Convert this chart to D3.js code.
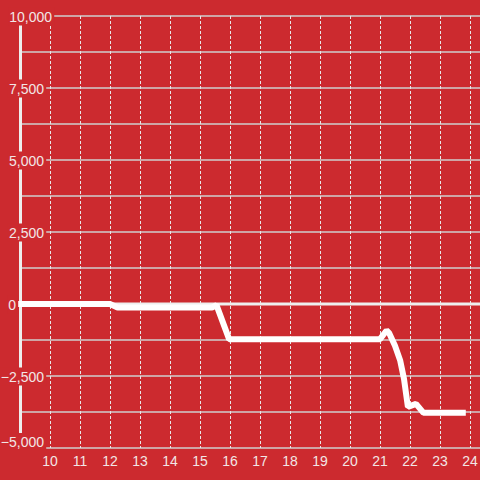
<!DOCTYPE html>
<html><head><meta charset="utf-8">
<script src="https://cdn.jsdelivr.net/npm/d3@7"></script>
<style>html,body{margin:0;padding:0;background:#cc2a2f;}svg{display:block;}</style>
</head><body>
<svg id="c" width="480" height="480"></svg>
<script>
const hours = [8.9, 12.0, 12.25, 15.4, 15.55, 15.97, 21.0, 21.22, 21.3, 21.5, 21.67, 21.8, 21.93, 22.2, 22.45, 23.86];
const values = [0, 0, -120, -120, -40, -1220, -1220, -920, -1000, -1450, -1950, -2600, -3570, -3470, -3780, -3780];
const yTicks = [-5000, -3750, -2500, -1250, 0, 1250, 2500, 3750, 5000, 6250, 7500, 8750, 10000];
const yLabelTicks = [-5000, -2500, 0, 2500, 5000, 7500, 10000];
const xTicks = [10, 11, 12, 13, 14, 15, 16, 17, 18, 19, 20, 21, 22, 23, 24];

const W = 480, H = 480;
const svg = d3.select("#c");
svg.append("rect").attr("width", W).attr("height", H).attr("fill", "#cc2a2f");
const x = d3.scaleLinear().domain([9, 24]).range([20, 470]);
const y = d3.scaleLinear().domain([-5000, 10000]).range([448, 16]);

// horizontal grid
svg.append("g").selectAll("line").data(yTicks).join("line")
  .attr("x1", 21).attr("x2", W)
  .attr("y1", d => y(d)).attr("y2", d => y(d))
  .attr("stroke", "#cfcfcf").attr("stroke-width", 1.5);

// vertical dashed grid
svg.append("g").selectAll("line").data(xTicks).join("line")
  .attr("x1", d => x(d) + 0.5).attr("x2", d => x(d) + 0.5)
  .attr("y1", y(10000)).attr("y2", y(-5000))
  .attr("stroke", "#e8e8e8").attr("stroke-width", 1).attr("stroke-dasharray", "3,2");

// left axis bar
svg.append("line").attr("x1", 20.5).attr("x2", 20.5).attr("y1", 24).attr("y2", 440)
  .attr("stroke", "#eeeeee").attr("stroke-width", 3);

// zero line
svg.append("line").attr("x1", 20).attr("x2", W).attr("y1", y(0)).attr("y2", y(0))
  .attr("stroke", "#eeeeee").attr("stroke-width", 3);

// data line
const data = hours.map((h, i) => [h, values[i]]);
svg.append("path").datum(data)
  .attr("d", d3.line().x(d => x(d[0])).y(d => y(d[1])))
  .attr("fill", "none").attr("stroke", "#ffffff").attr("stroke-width", 6)
  .attr("stroke-linejoin", "bevel");

// y labels
const fmt = d3.format(",");
const yl = svg.append("g").style("font-family", "'Liberation Sans', Arial, sans-serif").style("font-size", "14px");
yLabelTicks.forEach(v => {
  const txt = fmt(v);
  let anchorX = 44;
  if (v === 10000) anchorX = 52;
  if (v === 0) anchorX = 16;
  const dy = v === -5000 ? -1 : 5.5;
  const g = yl.append("g");
  const t = g.append("text").attr("x", anchorX).attr("y", y(v) + dy)
    .attr("text-anchor", "end").attr("fill", "#f2e6e6").text(txt);
  const b = t.node().getBBox();
  g.insert("rect", "text").attr("x", b.x - 1).attr("y", b.y - 1)
    .attr("width", b.width + 3).attr("height", b.height + 2).attr("fill", "#cc2a2f");
});

// x labels
svg.append("g").style("font-family", "'Liberation Sans', Arial, sans-serif").style("font-size", "14px")
  .selectAll("text").data(xTicks).join("text")
  .attr("x", d => x(d)).attr("y", 466).attr("text-anchor", "middle")
  .attr("fill", "#f2e6e6").text(d => d);
</script>
</body></html>
